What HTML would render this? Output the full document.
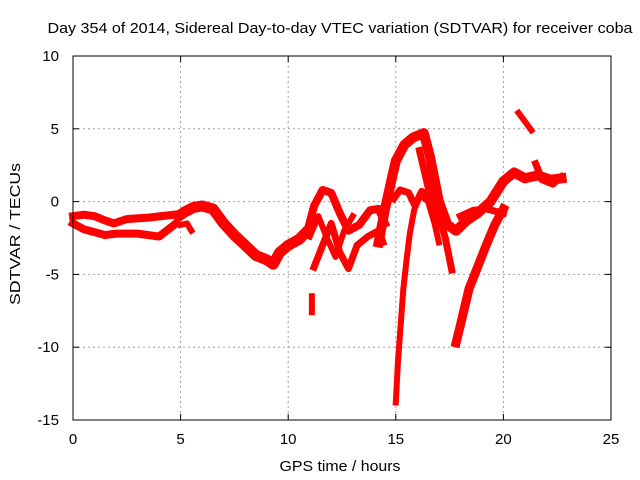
<!DOCTYPE html>
<html><head><meta charset="utf-8"><style>
body{margin:0;background:#fff;}
svg{display:block;font-family:"Liberation Sans",sans-serif;}
</style></head><body>
<svg id="chart" width="640" height="480">
<rect width="640" height="480" fill="#fff"/>
<text x="340" y="33" font-size="15" text-anchor="middle" textLength="585" lengthAdjust="spacingAndGlyphs">Day 354 of 2014, Sidereal Day-to-day VTEC variation (SDTVAR) for receiver coba</text>
<g id="grid"></g>
<g id="series"></g>
<rect x="73" y="56" width="538" height="364" fill="none" stroke="#000" stroke-width="1"/>
<g id="ticks"></g>
<text x="340" y="471" font-size="15" text-anchor="middle" textLength="121" lengthAdjust="spacingAndGlyphs">GPS time / hours</text>
<text transform="translate(20,234) rotate(-90)" font-size="15" text-anchor="middle" textLength="142" lengthAdjust="spacingAndGlyphs">SDTVAR / TECUs</text>
</svg>
<script>
const xTicks=[0,5,10,15,20,25];
const yTicks=[10,5,0,-5,-10,-15];
const trackEarlyUpper=[[0,-1],[0.5,-0.9],[1,-1],[1.5,-1.3],[1.9,-1.5],[2.5,-1.2],[3.5,-1.1],[4.7,-0.9]];
const trackEarlyLower=[[0,-1.5],[0.5,-1.9],[1,-2.1],[1.5,-2.3],[2,-2.2],[3,-2.2],[4,-2.4],[4.7,-1.6]];
const trackMorning=[[4.9,-1],[5.2,-0.7],[5.6,-0.4],[6,-0.3],[6.5,-0.5],[7,-1.5],[7.5,-2.3],[8,-3],[8.5,-3.7],[9,-4],[9.3,-4.3],[9.6,-3.5],[10,-3],[10.5,-2.6],[10.9,-2]];
const trackMorningBranch=[[5,-1.6],[5.3,-1.5],[5.5,-2]];
const trackNoonUpper=[[10.9,-2],[11.2,-0.3],[11.6,0.8],[12,0.6],[12.4,-0.8],[12.8,-2],[13.3,-1.6],[13.8,-0.6],[14.2,-0.5],[14.5,-1.5]];
const trackNoonLower=[[11.2,-4.5],[11.6,-3],[12,-1.5],[12.4,-3.5],[12.8,-4.6],[13.2,-3],[13.7,-2.4],[14.2,-2],[14.4,-2.8]];
const trackNoonMid=[[11,-2.4],[11.4,-1],[11.8,-2.5],[12.2,-3.8],[12.6,-2],[13,-1]];
const trackIsolated=[[11.1,-6.5],[11.1,-7.6]];
const trackPeak=[[14.2,-2.8],[14.5,-0.5],[14.8,1.5],[15,2.8],[15.4,3.9],[15.8,4.4],[16.3,4.7],[16.6,3],[17,0],[17.4,-1.6],[17.8,-2],[18.3,-1.3],[18.8,-0.8],[19.4,0],[20,1.4],[20.5,2],[21,1.6],[21.6,1.8],[22.2,1.5],[22.7,1.6]];
const trackPeakFall=[[16.1,3.5],[16.5,1],[17,-1],[17.3,-2.5],[17.6,-4.7]];
const trackDip=[[15,-13.8],[15.1,-11],[15.2,-9],[15.35,-6],[15.5,-4],[15.65,-2.2],[15.85,-0.6],[16.1,0.5],[16.5,0],[16.8,-1.5],[17,-2.8]];
const trackMidLoop=[[14.9,0.2],[15.2,0.8],[15.6,0.6],[15.9,-0.3],[16.2,0.7],[16.6,0.4]];
const trackRecovery=[[17.8,-9.7],[18,-8.5],[18.4,-6],[18.8,-4.5],[19.2,-3],[19.6,-1.6],[20,-0.5]];
const trackEvening=[[18,-1],[18.6,-0.6],[19.2,-0.5],[20,-0.8]];
const trackLate=[[20.7,6.1],[21.3,4.9]];
const trackLate2=[[21.5,2.6],[21.8,1.5],[22.3,1.2],[22.7,1.7]];
const tracks=[[trackEarlyUpper,8],[trackEarlyLower,8],[trackMorning,11],[trackMorningBranch,6],[trackNoonUpper,8],[trackNoonLower,7],[trackNoonMid,6],[trackIsolated,6],[trackPeak,10],[trackPeakFall,7],[trackDip,6],[trackMidLoop,7],[trackRecovery,9],[trackEvening,7],[trackLate,6],[trackLate2,7]];
const NS="http://www.w3.org/2000/svg";
const X=h=>73+h*(538/25);
const Y=v=>56+(10-v)*(364/25);
const grid=document.getElementById('grid'),ticks=document.getElementById('ticks'),series=document.getElementById('series');
function mk(tag,attrs,parent){const e=document.createElementNS(NS,tag);for(const k in attrs)e.setAttribute(k,attrs[k]);parent.appendChild(e);return e;}
xTicks.forEach(t=>{
 if(t>0&&t<25){const l=mk('line',{x1:X(t),x2:X(t),y1:56,y2:420,stroke:'#a0a0a0','stroke-dasharray':'2,3'},grid);
 
 }
 const tx=mk('text',{x:X(t),y:444,'font-size':15,'text-anchor':'middle'},ticks);tx.textContent=t;
 
 
 mk('line',{x1:X(t),x2:X(t),y1:420,y2:414,stroke:'#000'},ticks);
 mk('line',{x1:X(t),x2:X(t),y1:56,y2:62,stroke:'#000'},ticks);
});
yTicks.forEach(t=>{
 if(t>-15&&t<10){const l=mk('line',{x1:73,x2:611,y1:Y(t),y2:Y(t),stroke:'#a0a0a0','stroke-dasharray':'2,3'},grid);
 
 }
 const tx=mk('text',{x:59,y:Y(t)+5,'font-size':15,'text-anchor':'end'},ticks);tx.textContent=t;
 
 
 mk('line',{x1:73,x2:79,y1:Y(t),y2:Y(t),stroke:'#000'},ticks);
 mk('line',{x1:611,x2:605,y1:Y(t),y2:Y(t),stroke:'#000'},ticks);
});
tracks.forEach(([pts,w])=>{
 const p=mk('polyline',{points:pts.map(d=>X(d[0])+','+Y(d[1])).join(' '),fill:'none',stroke:'#ff0000','stroke-width':w,'stroke-linejoin':'round','stroke-linecap':'square'},series);
 
 
});
</script>
</body></html>
